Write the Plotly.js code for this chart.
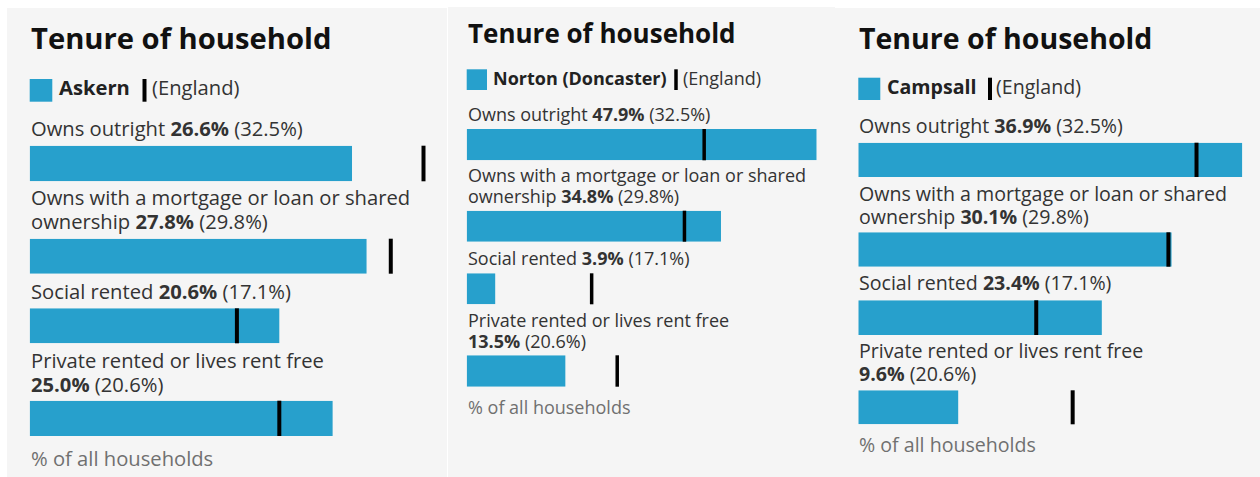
<!DOCTYPE html>
<html>
<head>
<meta charset="utf-8">
<script src="https://cdn.plot.ly/plotly-3.0.1.min.js"></script>
<style>
  html, body { margin: 0; padding: 0; background: #ffffff; }
  #chart { width: 1260px; height: 477px; }
</style>
</head>
<body>
<div id="chart"></div>
<script>
// ---------------- DATA ----------------
const chartTitle = "Tenure of household";
const categories = [
  "Owns outright",
  "Owns with a mortgage or loan or shared ownership",
  "Social rented",
  "Private rented or lives rent free"
];
// how each category label wraps in the original (text split per line)
const categoryLines = [
  ["Owns outright"],
  ["Owns with a mortgage or loan or shared", "ownership"],
  ["Social rented"],
  ["Private rented or lives rent free", ""]
];
const areas = ["Askern", "Norton (Doncaster)", "Campsall"];
const askern   = [26.6, 27.8, 20.6, 25.0];
const norton   = [47.9, 34.8, 3.9, 13.5];
const campsall = [36.9, 30.1, 23.4, 9.6];
const england  = [32.5, 29.8, 17.1, 20.6];
const comparisonName = "England";
const footerText = "% of all households";
const areaValues = [askern, norton, campsall];

// ---------------- LAYOUT GEOMETRY (pixels) ----------------
const W = 1260, H = 477;
const BLUE = "#27a0cc", TEXT = "#222222", GREY_TEXT = "#707070", BG = "#f5f5f5";
const FONT = "'Open Sans', 'Noto Sans', sans-serif";

const panels = [
  { bg: [7, 8, 447, 477], bx: [29.7, 423.5], titleSize: 29.2, labelSize: 20.2, lineGap: 23.5, mark: 4,
    titleBase: 50.7,
    legSq: [29.7, 79, 52.3, 101.7], legText: 58, legBase: 96, legLine: 144.5, engText: 150.5,
    rows: [[145.7, 181.3], [238.7, 273.7], [308.3, 343.3], [400.7, 436]],
    labBase: [137.3, 230, 300, 393.3], footBase: 466.7 },
  { bg: [448, 7, 835, 477], bx: [466.7, 816.7], titleSize: 26, labelSize: 18, lineGap: 21, mark: 3.5,
    titleBase: 44,
    legSq: [466.7, 69.3, 487, 90], legText: 492.3, legBase: 86, legLine: 676, engText: 682.2,
    rows: [[129, 160.3], [210.7, 241.7], [273.3, 304.3], [355.3, 386.7]],
    labBase: [121.7, 204, 265.7, 349], footBase: 414.3 },
  { bg: [835, 8, 1260, 477], bx: [858.3, 1242.3], titleSize: 28.5, labelSize: 19.6, lineGap: 23.4, mark: 4,
    titleBase: 50,
    legSq: [858.3, 77.7, 880.3, 100], legText: 886, legBase: 95.7, legLine: 990, engText: 995.2,
    rows: [[142.7, 177], [232.3, 266.7], [300.3, 335], [390.3, 424.3]],
    labBase: [134.3, 225.7, 291.7, 382.7], footBase: 453.3 }
];

function px(x) { return x / W; }
function py(y) { return 1 - y / H; }
// annotation anchored at bottom: place text baseline at pixel y
function baseY(base, size) { return py(base + 0.293 * size + 1); }
function fmt(v) { return v.toFixed(1) + "%"; }

const traces = [];
const layout = {
  width: W, height: H,
  margin: { l: 0, r: 0, t: 0, b: 0, pad: 0 },
  paper_bgcolor: "#ffffff",
  plot_bgcolor: "rgba(0,0,0,0)",
  showlegend: false,
  font: { family: FONT, color: TEXT },
  shapes: [],
  annotations: []
};

function addText(x, base, size, text, color) {
  layout.annotations.push({ xref: "paper", yref: "paper", x: px(x - 1), y: baseY(base, size),
    xanchor: "left", yanchor: "bottom", showarrow: false, align: "left",
    text: text, font: { size: size, color: color, family: FONT } });
}
// multi-line text: line pitch comes from the annotation font size, glyphs from the inner span
function addLines(x, base, size, gap, lines, color) {
  if (lines.length === 1) { addText(x, base, size, lines[0], color); return; }
  const text = lines.map(t => '<span style="font-size:' + size + 'px">' + t + '</span>').join("<br>");
  layout.annotations.push({ xref: "paper", yref: "paper", x: px(x - 1), y: baseY(base, size),
    xanchor: "left", yanchor: "bottom", showarrow: false, align: "left",
    text: text, font: { size: gap / 1.3, color: color, family: FONT } });
}

panels.forEach((p, pi) => {
  const vals = areaValues[pi];
  const xName = pi === 0 ? "x" : "x" + (pi + 1);
  const xKey = pi === 0 ? "xaxis" : "xaxis" + (pi + 1);
  const maxV = Math.max(...vals, ...england);
  const firstY = pi * 4 + 1;
  layout[xKey] = {
    domain: [px(p.bx[0]), px(p.bx[1])],
    range: [0, maxV],
    visible: false, fixedrange: true,
    anchor: firstY === 1 ? "y" : "y" + firstY
  };

  // background panel
  layout.shapes.push({ type: "rect", xref: "paper", yref: "paper", layer: "below",
    x0: px(p.bg[0]), x1: px(p.bg[2]), y0: py(p.bg[3]), y1: py(p.bg[1]),
    fillcolor: BG, line: { width: 0 } });

  const ts = p.titleSize, ls = p.labelSize;
  // title
  addText(p.bx[0], p.titleBase, ts, "<b>" + chartTitle + "</b>", "#111111");

  // legend
  layout.shapes.push({ type: "rect", xref: "paper", yref: "paper",
    x0: px(p.legSq[0]), x1: px(p.legSq[2]), y0: py(p.legSq[3]), y1: py(p.legSq[1]),
    fillcolor: BLUE, line: { width: 0 } });
  layout.shapes.push({ type: "line", xref: "paper", yref: "paper",
    x0: px(p.legLine), x1: px(p.legLine), y0: py(p.legSq[3]), y1: py(p.legSq[1]),
    line: { color: "#000000", width: p.mark } });
  addText(p.legText, p.legBase, ls, "<b>" + areas[pi] + "</b>", TEXT);
  addText(p.engText, p.legBase, ls, "(" + comparisonName + ")", "#333333");

  // rows
  categories.forEach((cat, ri) => {
    const yi = pi * 4 + ri + 1;
    const yName = yi === 1 ? "y" : "y" + yi;
    const yKey = yi === 1 ? "yaxis" : "yaxis" + yi;
    const r = p.rows[ri];
    layout[yKey] = {
      domain: [py(r[1]), py(r[0])],
      type: "category", range: [-0.5, 0.5],
      visible: false, fixedrange: true, anchor: xName
    };
    traces.push({
      type: "bar", orientation: "h",
      x: [vals[ri]], y: [cat], width: [1],
      xaxis: xName, yaxis: yName,
      marker: { color: BLUE, line: { width: 0 } },
      hoverinfo: "skip"
    });
    traces.push({
      type: "scatter", mode: "markers",
      x: [england[ri]], y: [cat],
      xaxis: xName, yaxis: yName,
      marker: { symbol: "line-ns", size: (r[1] - r[0]) / 1.4,
                color: "#000000", line: { color: "#000000", width: p.mark } },
      hoverinfo: "skip", cliponaxis: false
    });

    // label
    const lines = categoryLines[ri].slice();
    const last = lines.pop();
    const tail = (last ? last + " " : "") + "<b>" + fmt(vals[ri]) + "</b> (" + fmt(england[ri]) + ")";
    lines.push(tail);
    addLines(p.bx[0], p.labBase[ri], ls, p.lineGap, lines, "#333333");
  });

  // footer
  addText(p.bx[0], p.footBase, ls, footerText, GREY_TEXT);
});

Plotly.newPlot("chart", traces, layout, { staticPlot: true, displayModeBar: false });
</script>
</body>
</html>
